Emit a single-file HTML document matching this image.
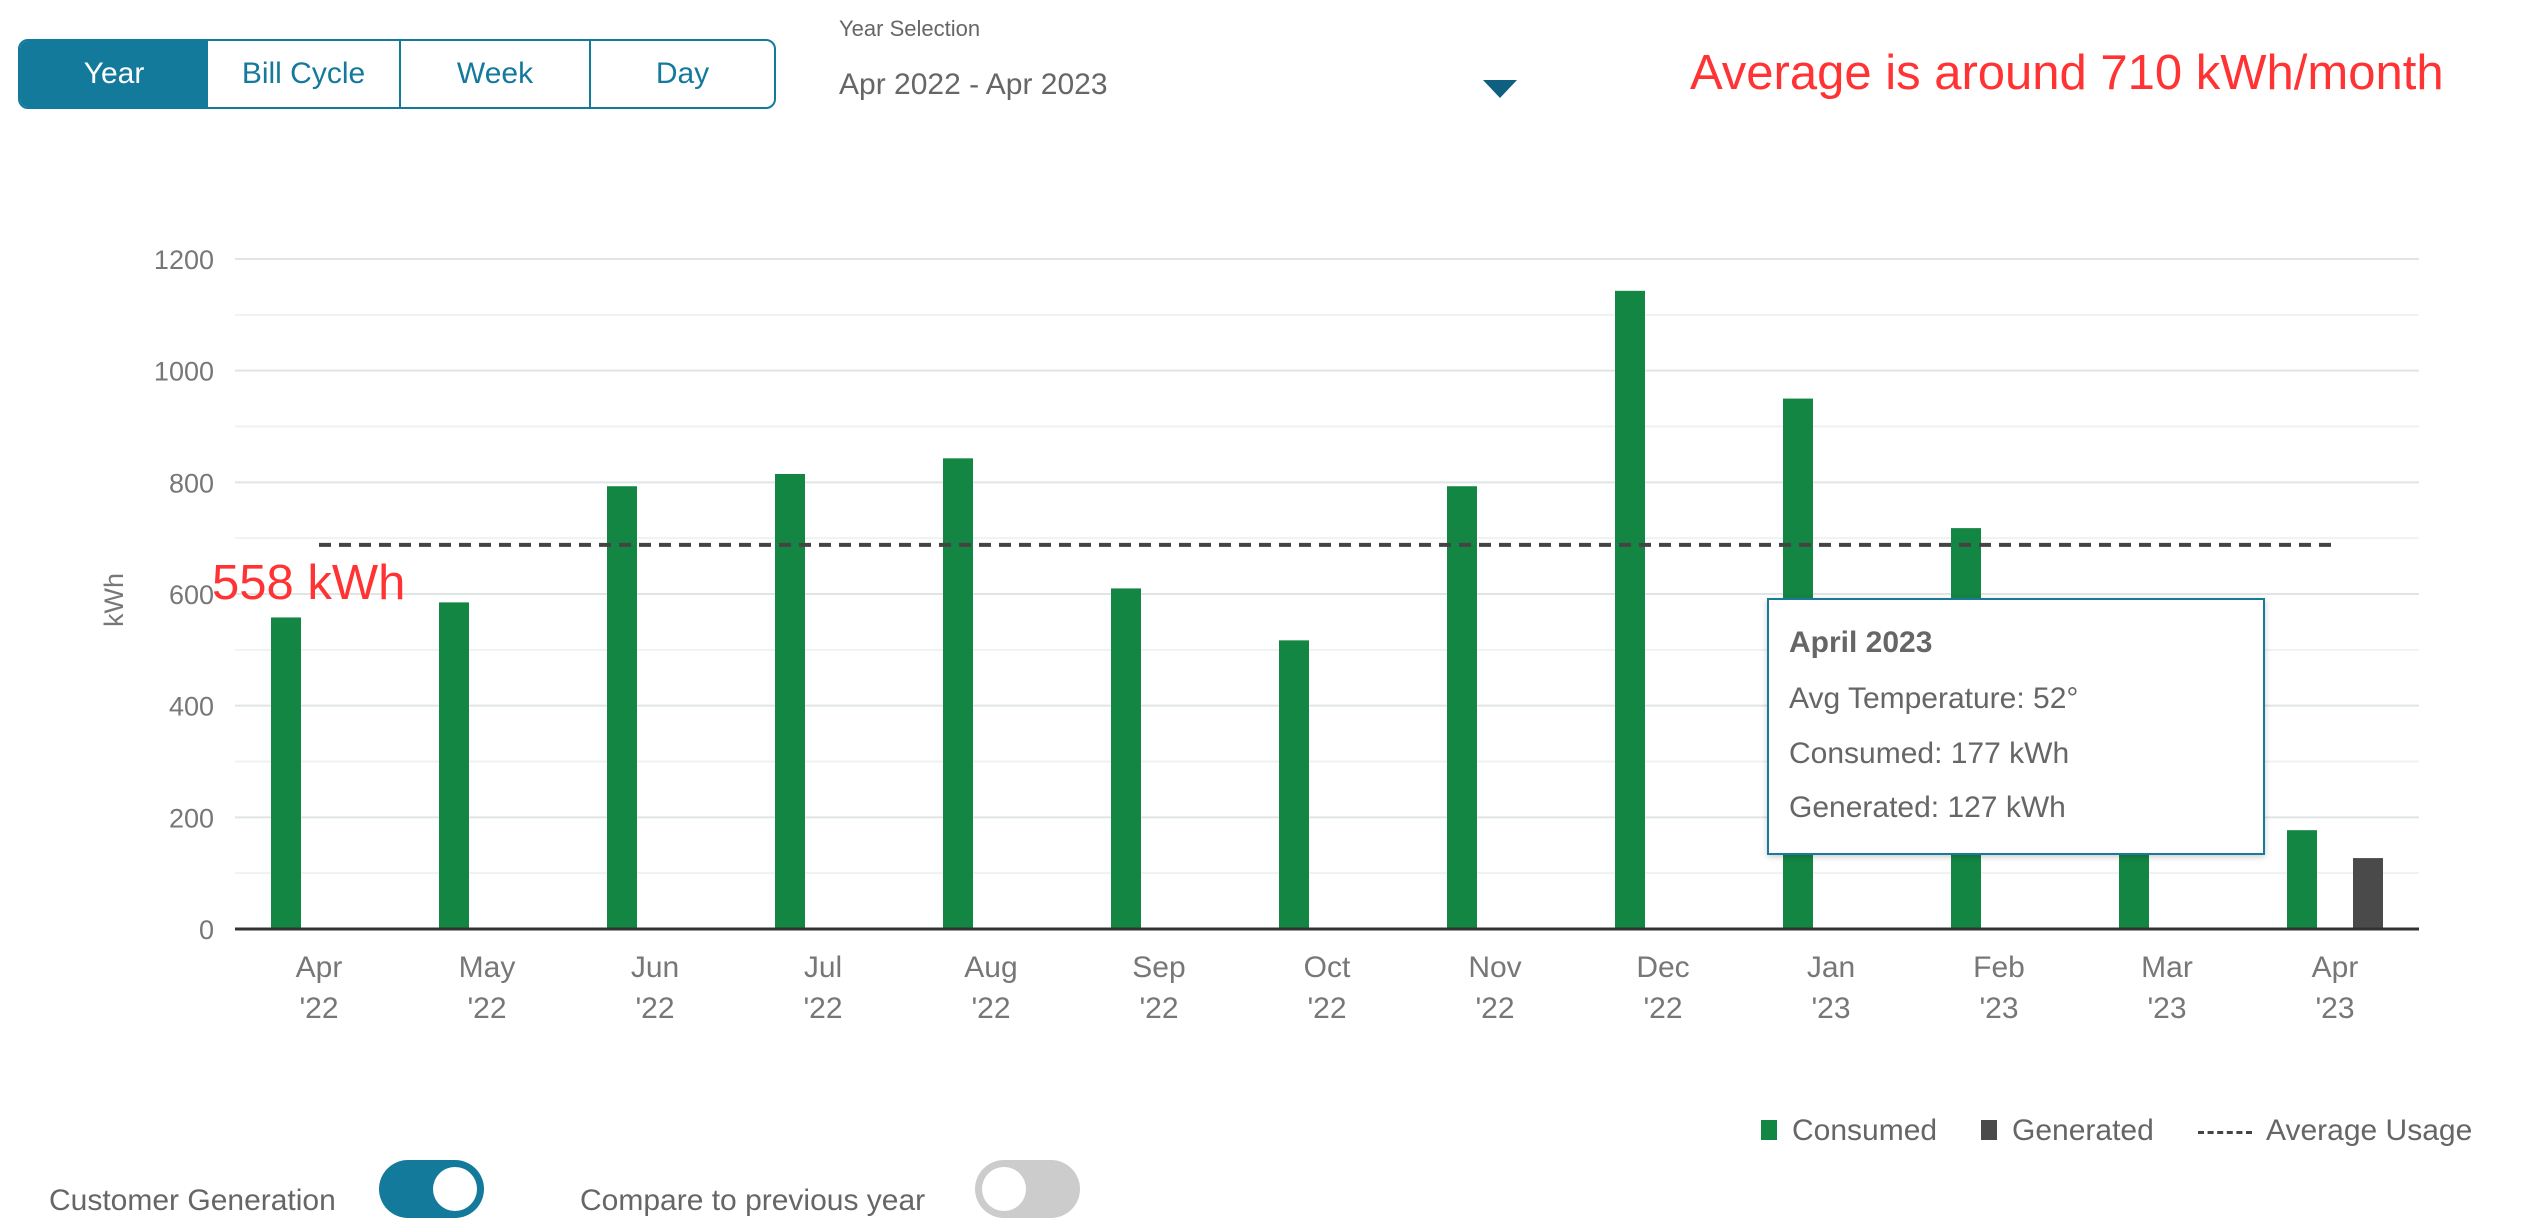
<!DOCTYPE html>
<html><head><meta charset="utf-8"><style>
body{margin:0;width:2542px;height:1230px;background:#fff;font-family:"Liberation Sans",sans-serif;overflow:hidden;position:relative;color:#666}
.abs{position:absolute}
</style></head><body>
<div class="abs" style="left:18px;top:39px;width:758px;height:70px;border:2px solid #137a9c;border-radius:10px;box-sizing:border-box;display:flex;overflow:hidden">
 <div style="width:188px;background:#137a9c;color:#fff;font-size:30px;display:flex;align-items:center;justify-content:center">Year</div>
 <div style="width:191px;border-right:2px solid #137a9c;color:#137a9c;font-size:30px;display:flex;align-items:center;justify-content:center">Bill Cycle</div>
 <div style="width:188px;border-right:2px solid #137a9c;color:#137a9c;font-size:30px;display:flex;align-items:center;justify-content:center">Week</div>
 <div style="flex:1;color:#137a9c;font-size:30px;display:flex;align-items:center;justify-content:center">Day</div>
</div>
<div class="abs" style="left:839px;top:16px;font-size:22px">Year Selection</div>
<div class="abs" style="left:839px;top:68px;width:680px;height:40px;font-size:30px">Apr 2022 - Apr 2023
 <svg style="position:absolute;left:644px;top:10px" width="34" height="20"><polygon points="0,2 34,2 17,20" fill="#0f5f80"/></svg></div>
<div class="abs" style="left:1690px;top:45px;font-size:49px;color:#f33">Average is around 710 kWh/month</div>

<svg class="abs" id="chart" style="left:0;top:0" width="2542" height="1100"></svg>

<div class="abs" style="left:212px;top:555px;font-size:49px;color:#f33">558 kWh</div>

<div class="abs" style="left:1767px;top:598px;width:498px;height:257px;border:2px solid #1a7a9a;background:#fff;box-sizing:border-box;box-shadow:0 2px 6px rgba(0,0,0,0.2);font-size:30px;color:#666">
 <div style="position:absolute;left:20px;top:26px;font-weight:bold">April 2023</div>
 <div style="position:absolute;left:20px;top:82px">Avg Temperature: 52°</div>
 <div style="position:absolute;left:20px;top:137px">Consumed: 177 kWh</div>
 <div style="position:absolute;left:20px;top:191px">Generated: 127 kWh</div>
</div>

<div class="abs" style="left:1761px;top:1114px;font-size:30px;height:40px;width:760px">
 <div style="position:absolute;left:0;top:0"><span style="display:inline-block;width:16px;height:20px;background:#138643;margin-right:15px"></span>Consumed</div>
 <div style="position:absolute;left:220px;top:0"><span style="display:inline-block;width:16px;height:20px;background:#4a4a4a;margin-right:15px"></span>Generated</div>
 <div style="position:absolute;left:437px;top:0"><span style="display:inline-block;width:54px;border-top:3px dashed #444;vertical-align:middle;margin-right:14px"></span>Average Usage</div>
</div>

<div class="abs" style="left:49px;top:1184px;font-size:30px">Customer Generation</div>
<div class="abs" style="left:379px;top:1160px;width:105px;height:58px;border-radius:29px;background:#137a9c"><div style="position:absolute;right:7px;top:7px;width:44px;height:44px;border-radius:50%;background:#fff"></div></div>
<div class="abs" style="left:580px;top:1184px;font-size:30px">Compare to previous year</div>
<div class="abs" style="left:975px;top:1160px;width:105px;height:58px;border-radius:29px;background:#ccc"><div style="position:absolute;left:7px;top:7px;width:44px;height:44px;border-radius:50%;background:#fff"></div></div>

<script>
const categories=["Apr","May","Jun","Jul","Aug","Sep","Oct","Nov","Dec","Jan","Feb","Mar","Apr"];
const years=["'22","'22","'22","'22","'22","'22","'22","'22","'22","'23","'23","'23","'23"];
const consumed=[558,585,793,815,843,610,517,793,1143,950,718,450,177];
const generated=[0,0,0,0,0,0,0,0,0,0,0,0,127];
const average=[688];
const yTicks=[0,200,400,600,800,1000,1200];
const NS="http://www.w3.org/2000/svg";
const svg=document.getElementById('chart');
const L=235,R=2419,Y0=929,Y1=259,VMAX=1200;
const band=(R-L)/categories.length;
const y=v=>Y0-(Y0-Y1)*v/VMAX;
const xc=i=>L+band*(i+0.5);
function mk(t,a){const e=document.createElementNS(NS,t);for(const k in a)e.setAttribute(k,a[k]);svg.appendChild(e);return e;}
for(let v=0;v<=VMAX;v+=100){
 const g=mk('line',{x1:L,x2:R,y1:y(v),y2:y(v),stroke:v%200?'#f0f2f2':'#e0e5e5','stroke-width':2});
 
 
}
yTicks.forEach(v=>{
 const t=mk('text',{x:214,y:y(v)+10,'text-anchor':'end','font-size':27,fill:'#777','font-family':'Liberation Sans, sans-serif'});
 t.textContent=v;
 
 
});
const yt=mk('text',{x:0,y:0,transform:'translate(123,600) rotate(-90)','text-anchor':'middle','font-size':27,fill:'#777','font-family':'Liberation Sans, sans-serif'});
yt.textContent='kWh';


consumed.forEach((v,i)=>{
 const r=mk('rect',{x:xc(i)-33-15,y:y(v),width:30,height:Y0-y(v),fill:'#138643'});
 
 
});
generated.forEach((v,i)=>{
 if(!v)return;
 const r=mk('rect',{x:xc(i)+33-15,y:y(v),width:30,height:Y0-y(v),fill:'#4a4a4a'});
 
 
});
const ax=mk('line',{x1:L,x2:R,y1:Y0,y2:Y0,stroke:'#333','stroke-width':3});


const av=mk('line',{x1:xc(0),x2:xc(12),y1:y(average[0]),y2:y(average[0]),stroke:'#444','stroke-width':4,'stroke-dasharray':'12,8'});


categories.forEach((c,i)=>{
 const t=mk('text',{x:xc(i),y:977,'text-anchor':'middle','font-size':30,fill:'#777','font-family':'Liberation Sans, sans-serif'});
 t.textContent=c;
 
 
 const t2=mk('text',{x:xc(i),y:1018,'text-anchor':'middle','font-size':30,fill:'#777','font-family':'Liberation Sans, sans-serif'});
 t2.textContent=years[i];
 
 
});
</script>
</body></html>
